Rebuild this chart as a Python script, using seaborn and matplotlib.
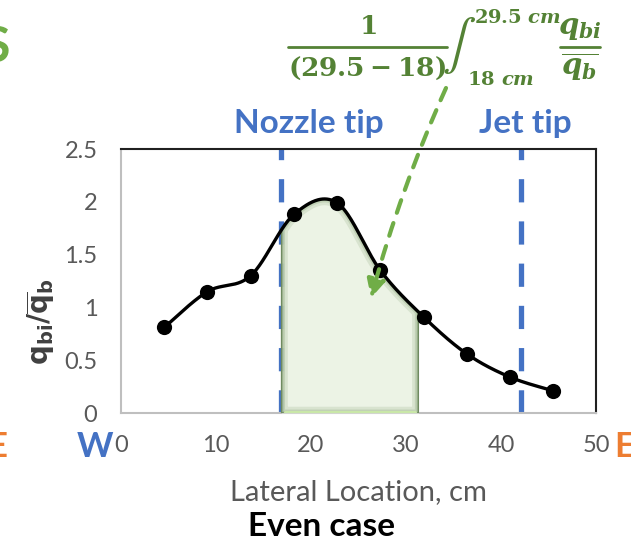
import numpy as np
import pandas as pd
import matplotlib
matplotlib.use("Agg")
import matplotlib.pyplot as plt
from matplotlib.lines import Line2D
import seaborn as sns

# Lateral bed-heat profile, even case
lateral_cm = [4.55, 9.1, 13.65, 18.2, 22.75, 27.3, 31.85, 36.4, 40.95, 45.5]
q_ratio = [0.81, 1.15, 1.30, 1.88, 1.99, 1.35, 0.91, 0.56, 0.34, 0.21]

nozzle_tip_cm = 16.8
jet_tip_cm = 42.1
shade_start_cm = 16.9
shade_end_cm = 31.3

x_ticks = [0, 10, 20, 30, 40, 50]
y_ticks = [0, 0.5, 1, 1.5, 2, 2.5]
y_tick_labels = ["0", "0.5", "1", "1.5", "2", "2.5"]

BLUE = "#4472C4"
ORANGE = "#ED7D31"
GREEN = "#70AD47"
DARK_GREEN = "#548235"
GRAY = "#595959"

sns.set_theme(style="white")
plt.rcParams["font.family"] = ["Lato", "DejaVu Sans"]
plt.rcParams["mathtext.fontset"] = "custom"
plt.rcParams["mathtext.rm"] = "DejaVu Serif:bold"
plt.rcParams["mathtext.it"] = "DejaVu Serif:italic:bold"
plt.rcParams["mathtext.bf"] = "DejaVu Serif:bold"

W, H = 631, 543
fig = plt.figure(figsize=(W / 100, H / 100), dpi=100)


def fx(px):
    return px / W


def fy(py):
    return 1 - py / H


ax = fig.add_axes([fx(121), fy(413), fx(596) - fx(121), fy(149) - fy(413)])


def smooth_curve(xs, ys, n=60):
    """Catmull-Rom style Bezier smoothing through the points."""
    p = np.column_stack([xs, ys]).astype(float)
    ext = np.vstack([p[0], p, p[-1]])
    out = []
    t = np.linspace(0, 1, n)[:, None]
    for i in range(1, len(ext) - 2):
        p0, p1, p2, p3 = ext[i - 1], ext[i], ext[i + 1], ext[i + 2]
        c1 = p1 + (p2 - p0) / 6
        c2 = p2 - (p3 - p1) / 6
        seg = ((1 - t) ** 3) * p1 + 3 * ((1 - t) ** 2) * t * c1 + 3 * (1 - t) * t ** 2 * c2 + t ** 3 * p2
        out.append(seg if i == 1 else seg[1:])
    s = np.vstack(out)
    return s[:, 0], s[:, 1]


sx, sy = smooth_curve(lateral_cm, q_ratio)

# shaded integration region under the smooth curve
fill_x = np.linspace(shade_start_cm, shade_end_cm, 300)
fill_y = np.interp(fill_x, sx, sy)

# tip markers
for xv in (nozzle_tip_cm, jet_tip_cm):
    ax.axvline(xv, color=BLUE, lw=3.8, linestyle=(0, (4.4, 3.6)), zorder=2)

band = ax.fill_between(fill_x, 0, fill_y, color="#EAF2E3", alpha=0.9,
                       linewidth=0, zorder=3)
# soft bevel along the inside of the band
outline_x = np.concatenate([[shade_start_cm], fill_x, [shade_end_cm, shade_start_cm]])
outline_y = np.concatenate([[0], fill_y, [0, 0]])
for lw, a in ((9, 0.18), (5, 0.25), (2.5, 0.35)):
    glow = ax.plot(outline_x, outline_y, color="#7F9C6C", lw=lw, alpha=a,
                   zorder=3.1, solid_joinstyle="round")[0]
    glow.set_clip_path(band.get_paths()[0], ax.transData)
ax.plot(outline_x, outline_y, color="#6F8A60", lw=1.0, zorder=3.2)
ax.plot([shade_start_cm + 0.4, shade_end_cm - 0.4], [0.012, 0.012],
        color="#C9E7A8", lw=2.2, zorder=3.3)

curve = pd.DataFrame({"x": sx, "y": sy})
points = pd.DataFrame({"x": lateral_cm, "y": q_ratio})
sns.lineplot(data=curve, x="x", y="y", ax=ax, color="black", lw=2.4,
             sort=False, zorder=4)
sns.scatterplot(data=points, x="x", y="y", ax=ax, color="black", s=120,
                edgecolor="black", linewidth=0, zorder=5)

ax.set_xlim(0, 50)
ax.set_ylim(0, 2.5)
ax.set_xticks(x_ticks)
ax.set_yticks(y_ticks)
ax.set_yticklabels(y_tick_labels)
ax.tick_params(axis="both", length=0, labelsize=17, labelcolor=GRAY)
ax.tick_params(axis="y", pad=17)
ax.tick_params(axis="x", pad=16)
ax.set_xlabel("")
ax.set_ylabel("")
for side in ("left", "bottom"):
    ax.spines[side].set_color("#BFBFBF")
    ax.spines[side].set_linewidth(1.5)
for side in ("top", "right"):
    ax.spines[side].set_color("#202020")
    ax.spines[side].set_linewidth(1.5)
ax.grid(False)

# axis titles
fig.text(fx(358), fy(492), "Lateral Location, cm", ha="center", va="center",
         fontsize=21, color=GRAY)
fig.text(fx(322), fy(527), "Even case", ha="center", va="center",
         fontsize=24, fontweight="bold", color="black")
fig.text(fx(41), fy(322), r"$\mathbf{q_{bi}/\overline{q}_{b}}$", ha="center",
         va="center", rotation=90, fontsize=20, color="#404040",
         math_fontfamily="dejavusans")

# compass letters
fig.text(fx(95), fy(447), "W", ha="center", va="center", fontsize=25,
         fontweight="bold", color=BLUE)
fig.text(fx(7), fy(447), "E", ha="right", va="center", fontsize=25,
         fontweight="bold", color=ORANGE)
fig.text(fx(614), fy(447), "E", ha="left", va="center", fontsize=25,
         fontweight="bold", color=ORANGE)
fig.text(fx(10), fy(48), "S", ha="right", va="center", fontsize=36,
         fontweight="bold", color=GREEN)

# tip labels
fig.text(fx(309), fy(124), "Nozzle tip", ha="center", va="center",
         fontsize=24, fontweight="bold", color=BLUE)
fig.text(fx(525), fy(124), "Jet tip", ha="center", va="center",
         fontsize=24, fontweight="bold", color=BLUE)

# average over the shaded band, laid out piece by piece
def eq_text(x, y, s, size, **kw):
    fig.text(fx(x), fy(y), s, ha="center", va="center", fontsize=size,
             color=DARK_GREEN, **kw)


def eq_bar(x0, x1, y):
    fig.add_artist(Line2D([fx(x0), fx(x1)], [fy(y), fy(y)], color=DARK_GREEN,
                          lw=2.0, transform=fig.transFigure))


eq_text(368, 26, r"$1$", 19)
eq_bar(288, 447, 47)
eq_text(367, 68, r"$(29.5-18)$", 19)
eq_text(459, 46, r"$\int$", 36, math_fontfamily="stix")
eq_text(518, 17, r"$29.5\ cm$", 14)
eq_text(501, 79, r"$18\ cm$", 14)
eq_text(580, 29, r"$q_{bi}$", 21)
eq_bar(560, 600, 47)
eq_text(580, 67, r"$\overline{q_b}$", 21)

ax.annotate("", xy=(fx(371), fy(298)), xycoords="figure fraction",
            xytext=(fx(446), fy(88)), textcoords="figure fraction",
            arrowprops=dict(arrowstyle="-|>,head_length=0.9,head_width=0.45",
                            color=GREEN, lw=3, linestyle=(0, (3.2, 2.6)),
                            shrinkA=0, shrinkB=0,
                            connectionstyle="arc3,rad=0.04"),
            annotation_clip=False, zorder=6)

fig.savefig("out.png", dpi=100)
